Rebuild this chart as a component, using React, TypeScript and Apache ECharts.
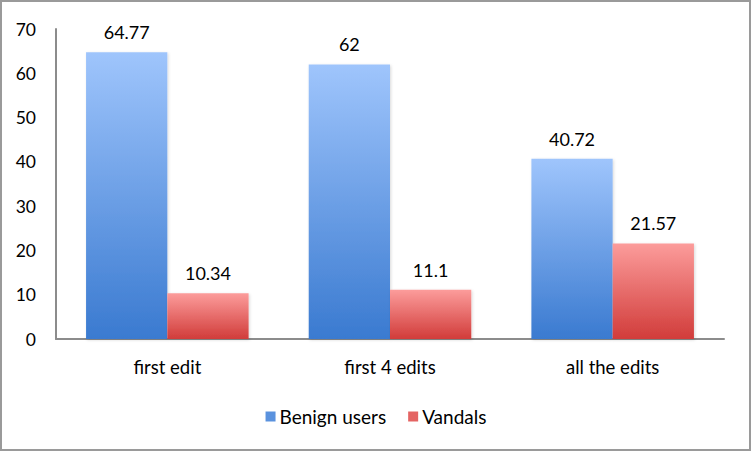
import React, { useEffect, useRef } from "react";
import * as echarts from "echarts";

const categories = ["first edit", "first 4 edits", "all the edits"];
const benignValues = [64.77, 62, 40.72];
const vandalValues = [10.34, 11.1, 21.57];
const seriesNames = ["Benign users", "Vandals"];

const FONT = "Lato";

export default function App() {
  const ref = useRef<HTMLDivElement>(null);
  useEffect(() => {
    document.body.style.margin = "0";
    const chart = echarts.init(ref.current!, null, { renderer: "svg" });
    const blue = new echarts.graphic.LinearGradient(0, 0, 0, 1, [
      { offset: 0, color: "#9fc5fc" },
      { offset: 1, color: "#3a7ad0" },
    ]);
    const red = new echarts.graphic.LinearGradient(0, 0, 0, 1, [
      { offset: 0, color: "#fc9c9b" },
      { offset: 1, color: "#d13c3a" },
    ]);
    const label = {
      show: true,
      position: "top" as const,
      distance: 11,
      color: "#000",
      fontFamily: FONT,
      fontSize: 18,
    };
    chart.setOption({
      animation: false,
      textStyle: { fontFamily: FONT },
      graphic: [
        {
          type: "rect",
          shape: { x: 1, y: 1, width: 749, height: 449 },
          style: { fill: "none", stroke: "#9a9a9a", lineWidth: 2 },
          z: -10,
        },
      ],
      grid: { left: 56, right: 28, top: 29, bottom: 114, containLabel: false },
      legend: {
        data: [
          { name: seriesNames[0], itemStyle: { color: "#5a92de" } },
          { name: seriesNames[1], itemStyle: { color: "#e46463" } },
        ],
        bottom: 22,
        left: "center",
        itemWidth: 10,
        itemHeight: 10,
        itemGap: 22,
        icon: "rect",
        textStyle: { fontFamily: FONT, fontSize: 19, color: "#000", padding: [0, 0, 0, -1] },
      },
      xAxis: {
        type: "category",
        data: categories,
        axisLine: { lineStyle: { color: "#8c8c8c", width: 2 } },
        axisTick: { show: false },
        axisLabel: { color: "#000", fontFamily: FONT, fontSize: 18.5, margin: 18 },
      },
      yAxis: {
        type: "value",
        min: 0,
        max: 70,
        interval: 10,
        splitLine: { show: false },
        axisLine: { show: true, lineStyle: { color: "#8c8c8c", width: 2 } },
        axisTick: { show: false },
        axisLabel: { color: "#000", fontFamily: FONT, fontSize: 17.5, margin: 20, verticalAlign: "middle", padding: [7, 0, 0, 0] },
      },
      series: [
        {
          name: seriesNames[0],
          type: "bar",
          data: benignValues,
          barGap: "0%",
          barCategoryGap: "27%",
          itemStyle: { color: blue, shadowColor: "rgba(0,0,0,0.15)", shadowBlur: 3, shadowOffsetX: 1, shadowOffsetY: 1 },
          label,
        },
        {
          name: seriesNames[1],
          type: "bar",
          data: vandalValues,
          itemStyle: { color: red, shadowColor: "rgba(0,0,0,0.15)", shadowBlur: 3, shadowOffsetX: 1, shadowOffsetY: 1 },
          label,
        },
      ],
    });
    return () => chart.dispose();
  }, []);
  return <div ref={ref} style={{ width: 752, height: 453 }} />;
}
